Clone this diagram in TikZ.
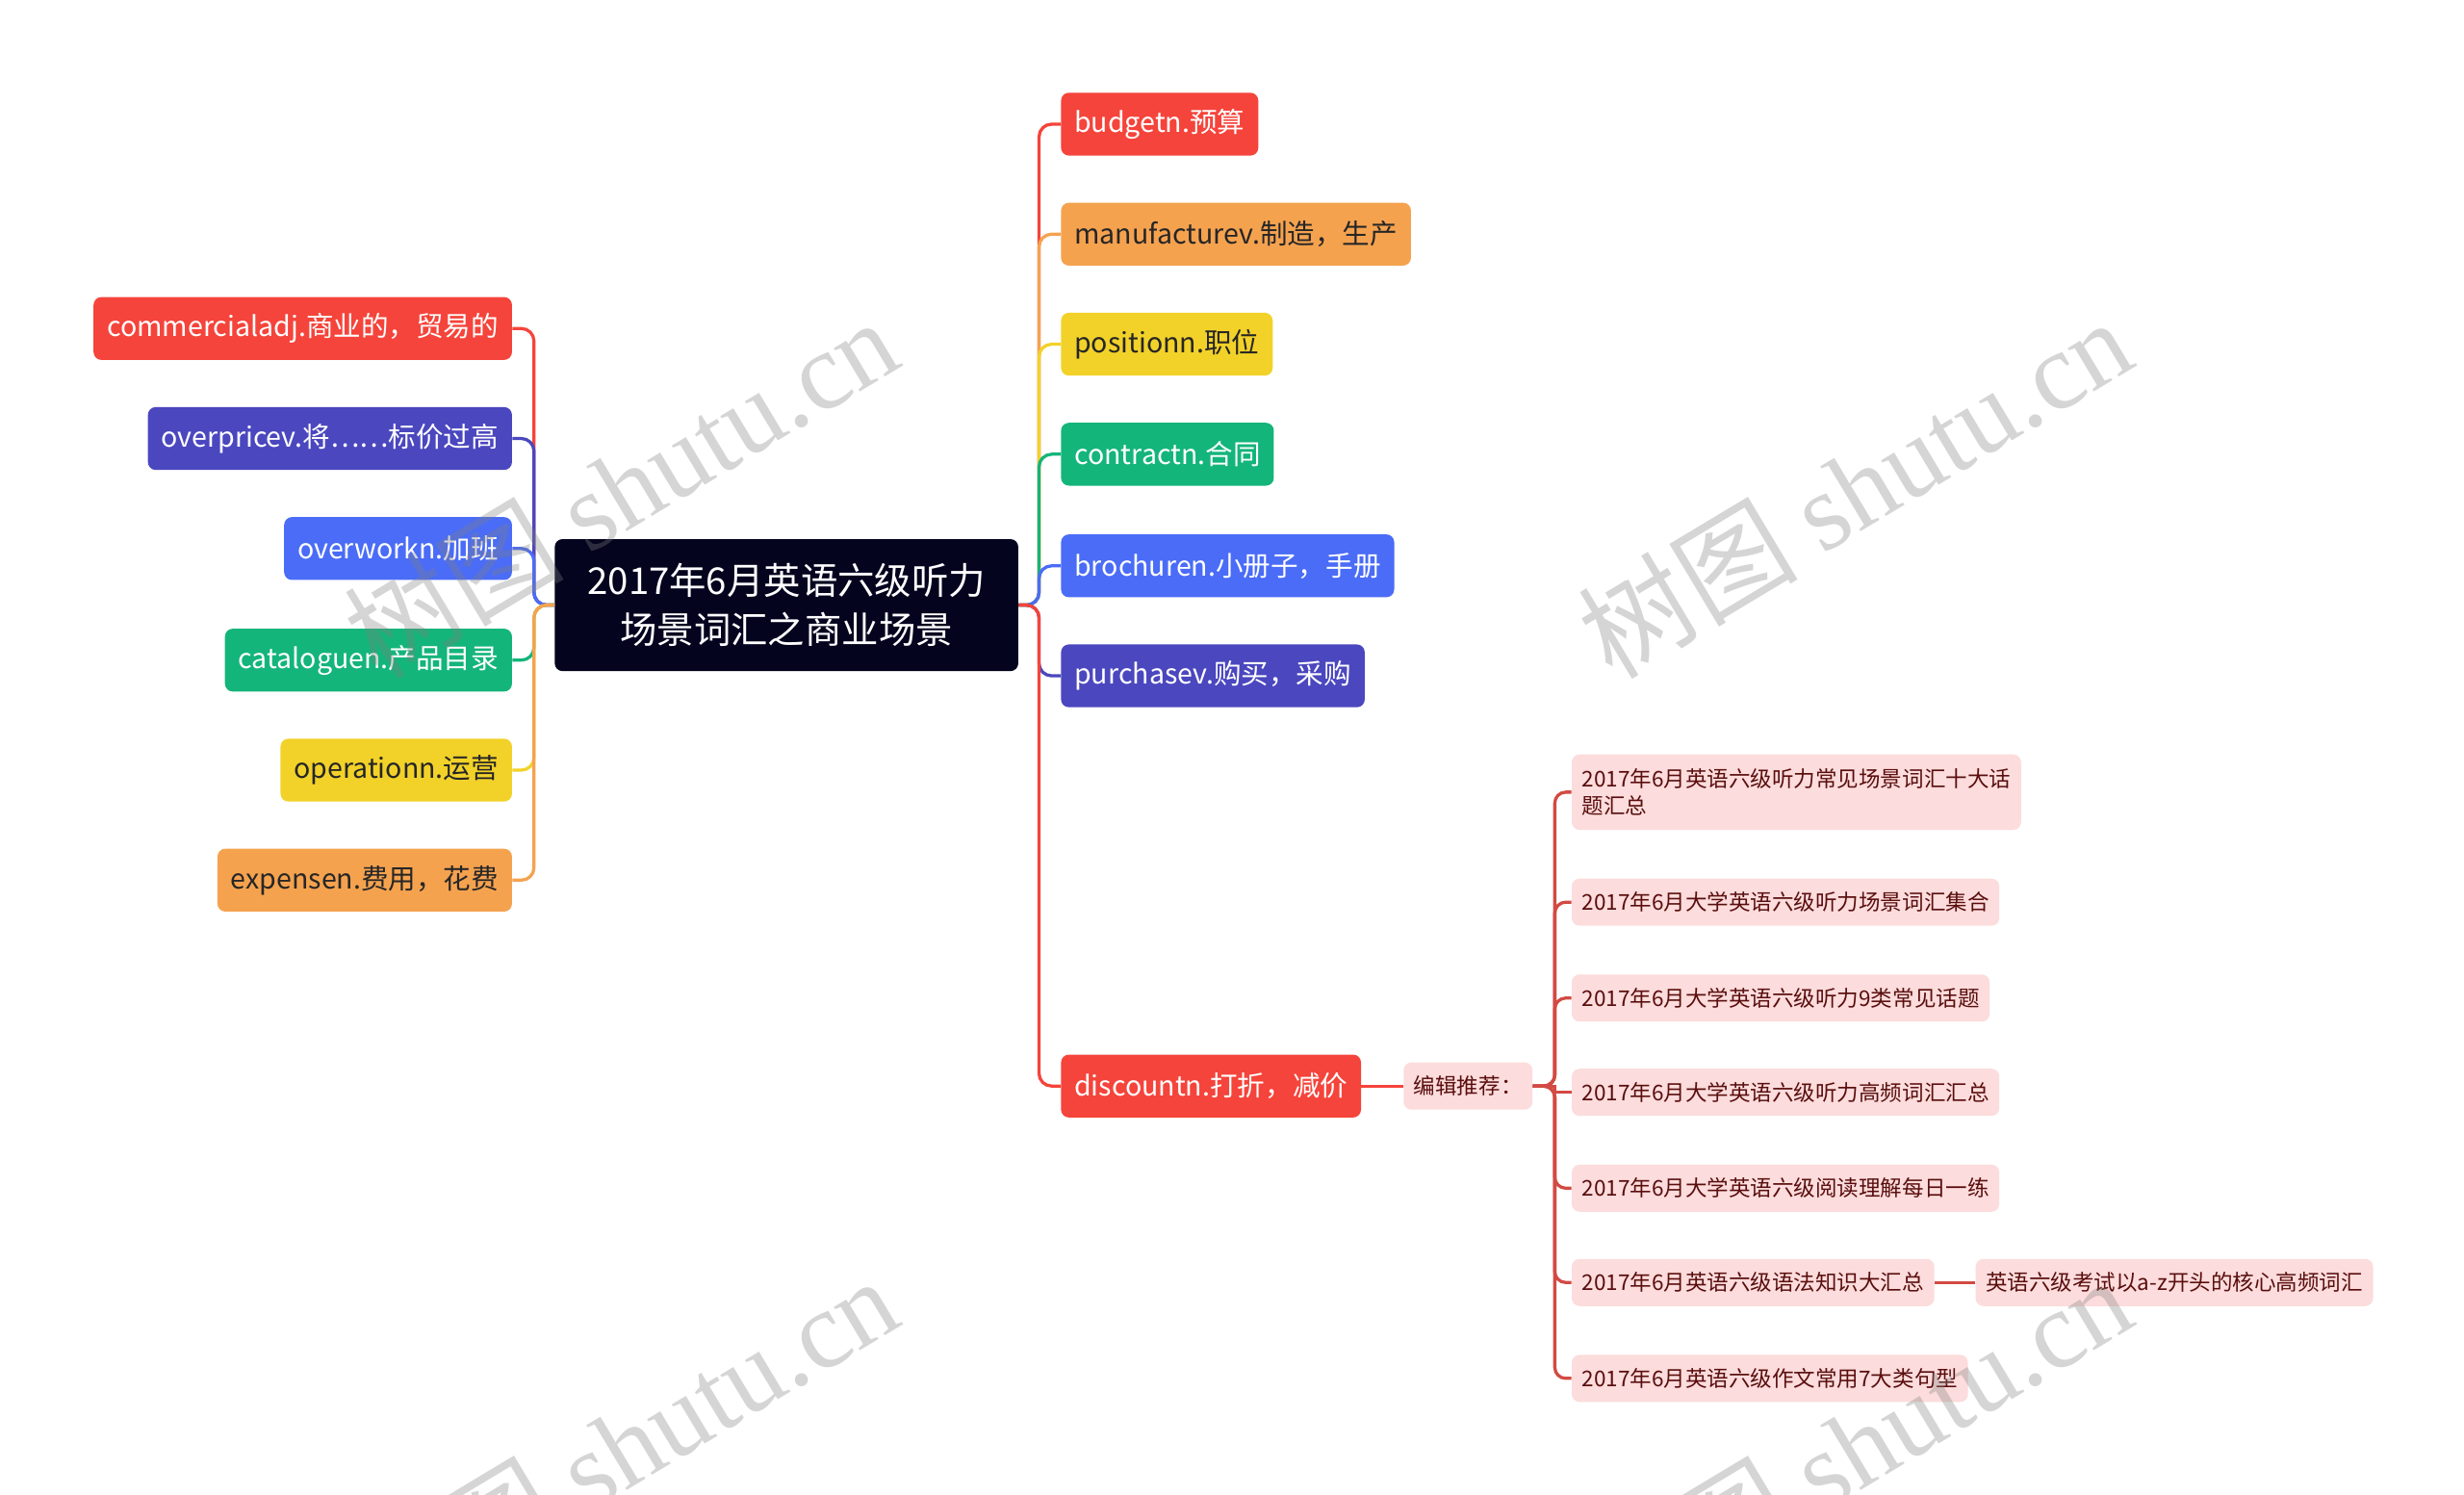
\documentclass[tikz,border=0pt]{standalone}
\usepackage{fontspec}
\setmainfont{Noto Sans CJK SC}
\newfontfamily\wmfont{Liberation Serif}
\newfontfamily\wmcjk{Noto Sans CJK SC}
\definecolor{cred}{HTML}{F5443B}
\definecolor{cindigo}{HTML}{4B47BF}
\definecolor{cblue}{HTML}{4A6CF7}
\definecolor{cgreen}{HTML}{14B57A}
\definecolor{cyellow}{HTML}{F2D229}
\definecolor{corange}{HTML}{F5A24F}
\definecolor{croot}{HTML}{04041F}
\definecolor{cpink}{HTML}{FCDCDC}
\definecolor{cpinktext}{HTML}{5A0E0E}
\definecolor{csub}{HTML}{D24A43}
\definecolor{cdark}{HTML}{262626}
\tikzset{
  rootbox/.style={fill=croot, text=white, rounded corners=5pt, minimum width=295pt, minimum height=84pt, align=center, font=\fontsize{23.5}{31}\selectfont},
  leaf/.style={rounded corners=5pt, minimum height=40pt, inner xsep=8.5pt, inner ysep=0pt, font=\fontsize{17.5}{22}\selectfont},
  pinkbox/.style={fill=cpink, text=cpinktext, rounded corners=5pt, minimum height=30pt, inner xsep=6.5pt, inner ysep=0pt, align=left, font=\fontsize{13.8}{17}\selectfont},
  branch/.style={line width=2pt, rounded corners=8pt},
  subbranch/.style={line width=2pt, rounded corners=7pt, csub},
  watermark/.style={text=gray, opacity=0.33, rotate=31, font=\fontsize{70}{70}\selectfont}
}
\begin{document}
\begin{tikzpicture}[x=1pt, y=-1pt]
\useasboundingbox (0,0) rectangle (1568,951);
\fill[white] (0,0) rectangle (1568,951);

\node[rootbox] (root) at (500.5,385) {2017年6月英语六级听力\\场景词汇之商业场景};

% left
\node[leaf, fill=cred, text=white, anchor=east] (l1) at (326,209) {commercialadj.商业的，贸易的};
\node[leaf, fill=cindigo, text=white, anchor=east] (l2) at (326,279) {overpricev.将……标价过高};
\node[leaf, fill=cblue, text=white, anchor=east] (l3) at (326,349) {overworkn.加班};
\node[leaf, fill=cgreen, text=white, anchor=east] (l4) at (326,420) {cataloguen.产品目录};
\node[leaf, fill=cyellow, text=cdark, anchor=east] (l5) at (326,490) {operationn.运营};
\node[leaf, fill=corange, text=cdark, anchor=east] (l6) at (326,560) {expensen.费用，花费};

% right
\node[leaf, fill=cred, text=white, anchor=west] (r1) at (675,79) {budgetn.预算};
\node[leaf, fill=corange, text=cdark, anchor=west] (r2) at (675,149) {manufacturev.制造，生产};
\node[leaf, fill=cyellow, text=cdark, anchor=west] (r3) at (675,219) {positionn.职位};
\node[leaf, fill=cgreen, text=white, anchor=west] (r4) at (675,289) {contractn.合同};
\node[leaf, fill=cblue, text=white, anchor=west] (r5) at (675,360) {brochuren.小册子，手册};
\node[leaf, fill=cindigo, text=white, anchor=west] (r6) at (675,430) {purchasev.购买，采购};
\node[leaf, fill=cred, text=white, anchor=west] (r7) at (675,691) {discountn.打折，减价};

\node[pinkbox, anchor=west] (ed) at (893,691) {编辑推荐：};

\node[pinkbox, anchor=west, minimum height=48pt] (s1) at (1000,504) {2017年6月英语六级听力常见场景词汇十大话\\题汇总};
\node[pinkbox, anchor=west] (s2) at (1000,574) {2017年6月大学英语六级听力场景词汇集合};
\node[pinkbox, anchor=west] (s3) at (1000,635) {2017年6月大学英语六级听力9类常见话题};
\node[pinkbox, anchor=west] (s4) at (1000,695) {2017年6月大学英语六级听力高频词汇汇总};
\node[pinkbox, anchor=west] (s5) at (1000,756) {2017年6月大学英语六级阅读理解每日一练};
\node[pinkbox, anchor=west] (s6) at (1000,816) {2017年6月英语六级语法知识大汇总};
\node[pinkbox, anchor=west] (s7) at (1000,877) {2017年6月英语六级作文常用7大类句型};
\node[pinkbox, anchor=west] (s6a) at (1257,816) {英语六级考试以a-z开头的核心高频词汇};

% left connectors
\draw[branch, cred] (root.west) -- ++(-13,0) |- (l1.east);
\draw[branch, cindigo] (root.west) -- ++(-13,0) |- (l2.east);
\draw[branch, cblue] (root.west) -- ++(-13,0) |- (l3.east);
\draw[branch, cgreen] (root.west) -- ++(-13,0) |- (l4.east);
\draw[branch, cyellow] (root.west) -- ++(-13,0) |- (l5.east);
\draw[branch, corange] (root.west) -- ++(-13,0) |- (l6.east);

% right connectors
\draw[branch, cred] (root.east) -- ++(13,0) |- (r1.west);
\draw[branch, corange] (root.east) -- ++(13,0) |- (r2.west);
\draw[branch, cyellow] (root.east) -- ++(13,0) |- (r3.west);
\draw[branch, cgreen] (root.east) -- ++(13,0) |- (r4.west);
\draw[branch, cblue] (root.east) -- ++(13,0) |- (r5.west);
\draw[branch, cindigo] (root.east) -- ++(13,0) |- (r6.west);
\draw[branch, cred] (root.east) -- ++(13,0) |- (r7.west);

\draw[subbranch, cred] (r7.east) -- (ed.west);
\foreach \s in {s1,s2,s3,s5,s6,s7}{
  \draw[subbranch] (ed.east) -- ++(14,0) |- (\s.west);
}
\draw[subbranch, rounded corners=0pt] (ed.east) -- ++(14,0) -- ++(0,4) -- (s4.west);
\draw[subbranch] (s6.east) -- (s6a.west);

% watermarks
\foreach \px/\py in {395/310, 1180/310, 395/920, 1180/920}{
  \node[watermark] (wm\px\py) at (\px,\py) {{\wmcjk 树图} {\wmfont shutu.cn}};
}
\end{tikzpicture}
\end{document}
